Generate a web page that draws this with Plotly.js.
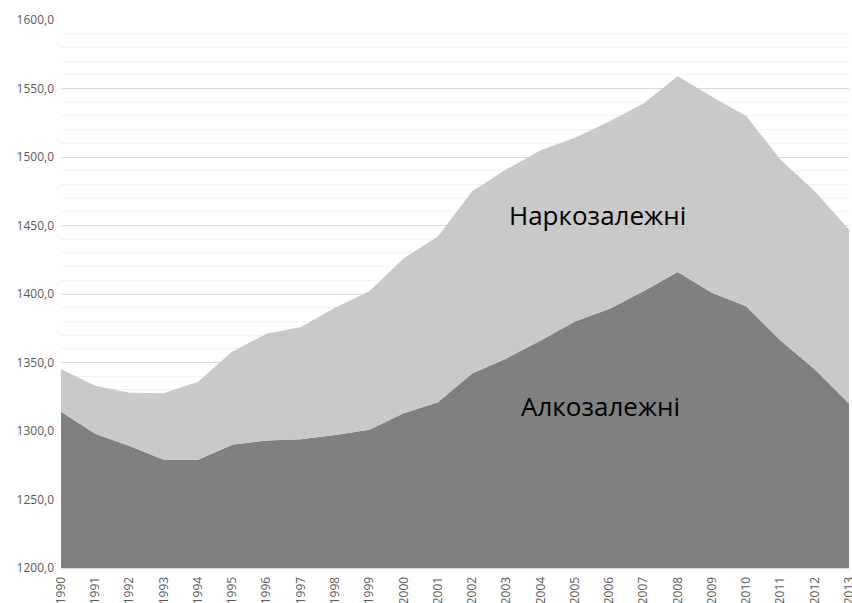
<!DOCTYPE html>
<html>
<head>
<meta charset="utf-8">
<script src="https://cdn.plot.ly/plotly-3.0.1.min.js"></script>
<style>html,body{margin:0;padding:0;background:#fff;}#chart{width:852px;height:603px;}</style>
</head>
<body>
<div id="chart"></div>
<script>
const years = [1990,1991,1992,1993,1994,1995,1996,1997,1998,1999,2000,2001,2002,2003,2004,2005,2006,2007,2008,2009,2010,2011,2012,2013];
const alcohol = [1314,1298,1289,1279,1279,1290,1293,1294,1297,1301,1313,1321,1342,1353,1366,1380,1389,1402,1416,1401,1391,1366,1345,1320];
const drugs = [31,35,39,48.5,57,68,78,82,93,101,113,121,133,138,139,134,137,137,143,143,139,132,130,127];
const labelAlcohol = 'Алкозалежні';
const labelDrugs = 'Наркозалежні';

const traces = [
  {x: years, y: alcohol, name: labelAlcohol, type: 'scatter', mode: 'none', stackgroup: 'one', fillcolor: '#808080', hoverinfo: 'skip'},
  {x: years, y: drugs, name: labelDrugs, type: 'scatter', mode: 'none', stackgroup: 'one', fillcolor: '#c9c9c9', hoverinfo: 'skip'}
];

const layout = {
  width: 852, height: 603,
  margin: {l: 61, r: 3, t: 20, b: 35},
  paper_bgcolor: '#ffffff', plot_bgcolor: '#ffffff',
  showlegend: false,
  separators: ',.',
  font: {family: 'Open Sans, sans-serif', color: '#595959'},
  xaxis: {
    range: [1990, 2013], tickmode: 'array', tickvals: years, ticktext: years.map(String),
    tickangle: -90, tickfont: {size: 12, color: '#595959'},
    ticklabeloverflow: 'allow', ticklabelstandoff: 3,
    showgrid: false, zeroline: false, showline: true, linecolor: '#d9d9d9', linewidth: 1,
    ticks: '', fixedrange: true
  },
  yaxis: {
    range: [1200, 1600], dtick: 50, tickformat: '.1f',
    tickfont: {size: 12, color: '#595959'},
    ticklabelstandoff: 6,
    showgrid: true, gridcolor: '#d9d9d9', gridwidth: 1, zeroline: false, showline: false,
    minor: {dtick: 10, showgrid: true, gridcolor: '#f2f2f2', gridwidth: 1},
    ticks: '', automargin: false, fixedrange: true
  },
  annotations: [
    {x: 2005.65, y: 1457.7, xref: 'x', yref: 'y', text: labelDrugs, showarrow: false, font: {family: 'Open Sans, sans-serif', size: 26, color: '#000000'}},
    {x: 2005.76, y: 1318, xref: 'x', yref: 'y', text: labelAlcohol, showarrow: false, font: {family: 'Open Sans, sans-serif', size: 26, color: '#000000'}}
  ]
};

Plotly.newPlot('chart', traces, layout, {staticPlot: true, displayModeBar: false});
</script>
</body>
</html>
